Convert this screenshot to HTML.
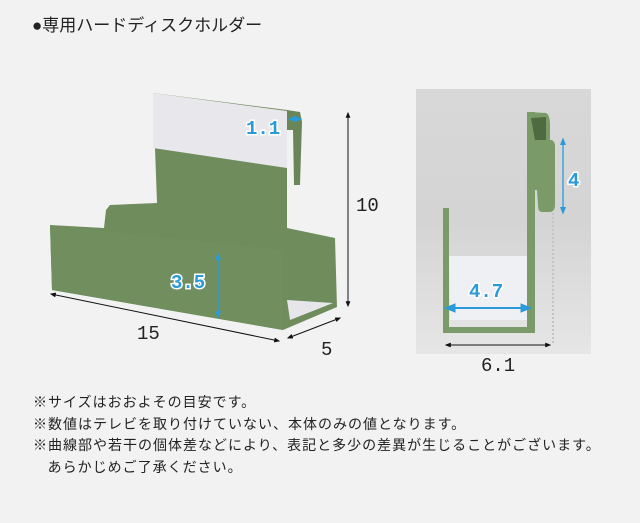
<!DOCTYPE html>
<html><head><meta charset="utf-8"><style>
html,body{margin:0;padding:0;background:#f2f2f2;}
body{width:640px;height:523px;position:relative;overflow:hidden;font-family:"Liberation Sans","Noto Sans CJK JP",sans-serif;color:#222;}
.t{position:absolute;white-space:nowrap;}
</style></head><body>
<svg width="640" height="523" style="position:absolute;left:0;top:0" xmlns="http://www.w3.org/2000/svg">
<defs>
<marker id="ab" viewBox="0 0 10 10" refX="8" refY="5" markerWidth="6" markerHeight="6" orient="auto-start-reverse"><path d="M0,1 L10,5 L0,9 z" fill="#111"/></marker>
<marker id="bb" viewBox="0 0 10 10" refX="8" refY="5" markerWidth="6" markerHeight="6" orient="auto-start-reverse"><path d="M0,1 L10,5 L0,9 z" fill="#2a9ad8"/></marker>
<linearGradient id="pg" x1="0" y1="0" x2="0" y2="1"><stop offset="0" stop-color="#d8d8d8"/><stop offset="0.5" stop-color="#d4d4d4"/><stop offset="1" stop-color="#e6e6e6"/></linearGradient>
</defs>
<!-- left object -->
<polygon points="153,93 287,110 287,228 335,238 337,307 283,330 52,290 50,225 104,228 106,210 110,205 157,203" fill="#6f8c5c"/>
<polygon points="153,93 287,111 287,168 153,148" fill="#e8e8ec"/>
<polygon points="287,110 300,112 302,122 300,185 294,185 293,130 287,130" fill="#6a8658"/>
<polygon points="50,225 283,250 283,330 52,290" fill="#718e5e"/>
<polygon points="287,300 333,303 290,320" fill="#e6e6ea"/>
<line x1="348" y1="113" x2="348" y2="306" stroke="#111" stroke-width="1" marker-start="url(#ab)" marker-end="url(#ab)"/>
<line x1="51" y1="294" x2="279" y2="341" stroke="#111" stroke-width="1" marker-start="url(#ab)" marker-end="url(#ab)"/>
<line x1="288" y1="338" x2="340" y2="318" stroke="#111" stroke-width="1" marker-start="url(#ab)" marker-end="url(#ab)"/>
<line x1="218" y1="254" x2="218" y2="317" stroke="#2a9ad8" stroke-width="1.3" marker-start="url(#bb)" marker-end="url(#bb)"/>
<line x1="289" y1="119" x2="301" y2="119" stroke="#2a9ad8" stroke-width="1.3" marker-start="url(#bb)" marker-end="url(#bb)"/>
<!-- right photo -->
<rect x="416" y="89" width="175" height="265" fill="url(#pg)"/>
<polygon points="449,256 527,256 529,320 450,320" fill="#eef0f4"/>
<rect x="443" y="208" width="6" height="125" fill="#7a9a68"/>
<rect x="443" y="327" width="92" height="6" fill="#7a9a68"/>
<rect x="527" y="112" width="8" height="221" fill="#7a9a68"/>
<path d="M527,112 L546,113 Q550,115 550,125 L550,140 L535,140 Z" fill="#7a9a68"/>
<path d="M535,140 L552,140 Q555,142 555,146 L555,205 Q555,212 549,212 L542,212 Q538,212 538,205 L537,190 L535,190 Z" fill="#7a9a68"/>
<polygon points="531,118 546,117 546,140 535,140" fill="#4d6a40"/>
<line x1="553" y1="213" x2="553" y2="345" stroke="#fff" stroke-width="2" stroke-dasharray="2,2"/>
<line x1="553" y1="213" x2="553" y2="345" stroke="#888" stroke-width="1" stroke-dasharray="2,2"/>
<line x1="563" y1="139" x2="563" y2="213" stroke="#2a9ad8" stroke-width="1.3" marker-start="url(#bb)" marker-end="url(#bb)"/>
<line x1="446" y1="308" x2="530" y2="308" stroke="#2a9ad8" stroke-width="2" marker-start="url(#bb)" marker-end="url(#bb)"/>
<line x1="446" y1="345" x2="550" y2="345" stroke="#111" stroke-width="1" marker-start="url(#ab)" marker-end="url(#ab)"/>
<g font-family="Liberation Mono, monospace" font-size="19" fill="#2a9ad8" stroke="#fff" stroke-width="3" paint-order="stroke" font-weight="bold">
<text x="246" y="134">1.1</text><text x="171" y="288">3.5</text>
<text x="469" y="297">4.7</text><text x="568" y="186">4</text>
</g>
<g font-family="Liberation Mono, monospace" font-size="19" fill="#222">
<text x="356" y="211">10</text><text x="137" y="339">15</text><text x="321" y="355">5</text><text x="481" y="371">6.1</text>
</g>
</svg>
<div class="t" style="left:32px;top:11px;font-size:17px;">●専用ハードディスクホルダー</div>
<div class="t" style="left:33px;top:392px;font-size:14px;line-height:21.5px;letter-spacing:1px;">※サイズはおおよその目安です。<br>※数値はテレビを取り付けていない、本体のみの値となります。<br>※曲線部や若干の個体差などにより、表記と多少の差異が生じることがございます。<br>&nbsp;&nbsp;&nbsp;あらかじめご了承ください。</div>
</body></html>
